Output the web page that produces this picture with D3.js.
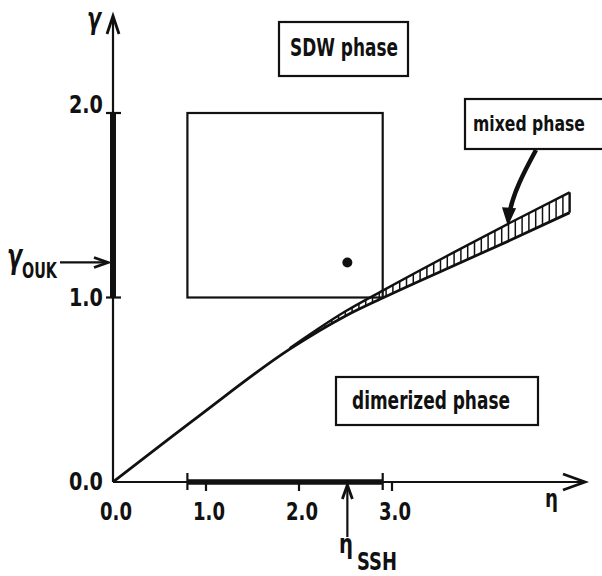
<!DOCTYPE html>
<html>
<head>
<meta charset="utf-8">
<script src="https://d3js.org/d3.v7.min.js"></script>
<style>
  body { margin: 0; background: #fff; }
  text { font-family: "DejaVu Sans", sans-serif; fill: #111; }
</style>
</head>
<body>
<div id="chart"></div>
<script>
// phase boundary (lower edge of mixed region) and upper edge of mixed region
var lowerEdge = [[0, 0], [0.93, 0.36], [1.9, 0.72], [2.5, 0.90], [2.91, 1.0], [3.74, 1.19], [4.27, 1.31], [4.91, 1.46]];
var upperEdge = [[1.9, 0.725], [2.5, 0.925], [2.91, 1.04], [3.74, 1.265], [4.27, 1.405], [4.91, 1.57]];

// parameter ranges (the square) and the special points
var etaRange = [0.8, 2.9];
var gammaRange = [1.0, 2.0];
var etaSSH = 2.52;
var gammaOUK = 1.19;

var xTicks = [0, 1, 2, 3];
var xTickLabels = ["0.0", "1.0", "2.0", "3.0"];
var yTicks = [0, 1, 2];
var yTickLabels = ["0.0", "1.0", "2.0"];

var phaseLabels = ["SDW phase", "mixed phase", "dimerized phase"];

var width = 602, height = 576;

var svg = d3.select("#chart")
  .append("svg")
  .attr("width", width)
  .attr("height", height);

var x = d3.scaleLinear().domain([0, 3]).range([113, 392]);
var y = d3.scaleLinear().domain([0, 2]).range([482, 113]);

// text squeezed horizontally to a given width (the lettering is condensed)
function label(str, px, py, size, w, weight) {
  var g = svg.append("g").attr("transform", "translate(" + px + "," + py + ")");
  var t = g.append("text")
    .style("font-size", size + "px")
    .style("font-weight", weight || "bold")
    .text(str);
  var natural = t.node().getComputedTextLength();
  if (w) t.attr("transform", "scale(" + (w / natural) + ",1)");
  return t;
}

// ---- axes ----
svg.append("line")
  .attr("x1", x(0)).attr("y1", y(0))
  .attr("x2", 585).attr("y2", y(0))
  .attr("stroke", "#111").attr("stroke-width", 2.2);
svg.append("path")
  .attr("d", "M" + 563 + "," + (y(0) - 8) + "L585," + y(0) + "L" + 563 + "," + (y(0) + 8))
  .attr("fill", "none").attr("stroke", "#111").attr("stroke-width", 2.8);

svg.append("line")
  .attr("x1", x(0)).attr("y1", y(0))
  .attr("x2", x(0)).attr("y2", 16)
  .attr("stroke", "#111").attr("stroke-width", 2.2);
svg.append("path")
  .attr("d", "M" + (x(0) - 6) + ",34L" + x(0) + ",16L" + (x(0) + 6) + ",34")
  .attr("fill", "none").attr("stroke", "#111").attr("stroke-width", 2.8);

// thick bars marking the ranges
svg.append("line")
  .attr("x1", x(etaRange[0])).attr("y1", y(0))
  .attr("x2", x(etaRange[1])).attr("y2", y(0))
  .attr("stroke", "#111").attr("stroke-width", 5.5);
etaRange.forEach(function(v) {
  svg.append("line")
    .attr("x1", x(v)).attr("y1", y(0) - 9)
    .attr("x2", x(v)).attr("y2", y(0) + 8)
    .attr("stroke", "#111").attr("stroke-width", 2.2);
});
svg.append("line")
  .attr("x1", x(0)).attr("y1", y(gammaRange[0]))
  .attr("x2", x(0)).attr("y2", y(gammaRange[1]))
  .attr("stroke", "#111").attr("stroke-width", 6);

// ticks
xTicks.forEach(function(v, i) {
  if (v > 0) {
    svg.append("line")
      .attr("x1", x(v)).attr("y1", y(0))
      .attr("x2", x(v)).attr("y2", y(0) + 9)
      .attr("stroke", "#111").attr("stroke-width", 2.2);
  }
  label(xTickLabels[i], x(v) + 3 - 16, 520, 25, 32, "bold");
});
yTicks.forEach(function(v, i) {
  if (v > 0) {
    svg.append("line")
      .attr("x1", x(0) - 7).attr("y1", y(v))
      .attr("x2", x(0) + 8).attr("y2", y(v))
      .attr("stroke", "#111").attr("stroke-width", 2.2);
  }
  label(yTickLabels[i], 69, y(v) + (v == 2 ? 0 : 8), 25, 34, "bold");
});

// axis titles
label("γ", 87, 29, 30, 14, "bold").style("font-style", "italic");
label("η", 545, 507, 25, 13, "bold");

// ---- parameter square and point ----
svg.append("rect")
  .attr("x", x(etaRange[0])).attr("y", y(gammaRange[1]))
  .attr("width", x(etaRange[1]) - x(etaRange[0]))
  .attr("height", y(gammaRange[0]) - y(gammaRange[1]))
  .attr("fill", "none").attr("stroke", "#111").attr("stroke-width", 2.2);

svg.append("circle")
  .attr("cx", x(etaSSH)).attr("cy", y(gammaOUK))
  .attr("r", 5).attr("fill", "#111");

// eta_SSH arrow
svg.append("line")
  .attr("x1", x(etaSSH)).attr("y1", 537)
  .attr("x2", x(etaSSH)).attr("y2", 486)
  .attr("stroke", "#111").attr("stroke-width", 2.2);
svg.append("path")
  .attr("d", "M" + (x(etaSSH) - 5) + ",499L" + x(etaSSH) + ",485L" + (x(etaSSH) + 5) + ",499")
  .attr("fill", "none").attr("stroke", "#111").attr("stroke-width", 2.8);
label("η", 339, 553, 26, 14, "bold");
label("SSH", 357, 570, 25, 40, "bold");

// gamma_OUK arrow
svg.append("line")
  .attr("x1", 60).attr("y1", y(gammaOUK))
  .attr("x2", 107).attr("y2", y(gammaOUK))
  .attr("stroke", "#111").attr("stroke-width", 2.2);
svg.append("path")
  .attr("d", "M94," + (y(gammaOUK) - 5) + "L108," + y(gammaOUK) + "L94," + (y(gammaOUK) + 5))
  .attr("fill", "none").attr("stroke", "#111").attr("stroke-width", 2.8);
label("γ", 7, 268, 33, 15, "bold").style("font-style", "italic");
label("OUK", 22, 278, 21, 35, "bold");

// ---- phase boundary and mixed region ----
var line = d3.line()
  .x(function(d) { return x(d[0]); })
  .y(function(d) { return y(d[1]); })
  .curve(d3.curveMonotoneX);

var lowerPath = svg.append("path")
  .datum(lowerEdge)
  .attr("d", line)
  .attr("fill", "none").attr("stroke", "#111").attr("stroke-width", 2.8);
var upperPath = svg.append("path")
  .datum(upperEdge)
  .attr("d", line)
  .attr("fill", "none").attr("stroke", "#111").attr("stroke-width", 2.4);

// find y on a rendered path for a given screen x
function yAtX(pathNode, px) {
  var len = pathNode.getTotalLength(), lo = 0, hi = len;
  for (var k = 0; k < 40; k++) {
    var mid = (lo + hi) / 2;
    if (pathNode.getPointAtLength(mid).x < px) lo = mid; else hi = mid;
  }
  return pathNode.getPointAtLength(lo).y;
}

// vertical hatching between the two edges
var hatchStart = x(upperEdge[0][0]) + 8;
var hatchEnd = x(upperEdge[upperEdge.length - 1][0]);
d3.range(hatchStart, hatchEnd - 3, 6.8).concat([hatchEnd]).forEach(function(px) {
  var y1 = yAtX(upperPath.node(), px), y2 = yAtX(lowerPath.node(), px);
  svg.append("line")
    .attr("x1", px).attr("y1", y1)
    .attr("x2", px).attr("y2", y2)
    .attr("stroke", "#111").attr("stroke-width", px == hatchEnd ? 2.4 : 1.5);
});

// ---- phase label boxes ----
svg.append("rect")
  .attr("x", 279).attr("y", 22).attr("width", 129).attr("height", 54)
  .attr("fill", "#fff").attr("stroke", "#111").attr("stroke-width", 2.2);
label(phaseLabels[0], 290, 56, 25, 108);

svg.append("rect")
  .attr("x", 465).attr("y", 99).attr("width", 160).attr("height", 50)
  .attr("fill", "#fff").attr("stroke", "#111").attr("stroke-width", 2.2);
label(phaseLabels[1], 473, 131, 22, 112);

svg.append("rect")
  .attr("x", 336).attr("y", 377).attr("width", 202).attr("height", 48)
  .attr("fill", "#fff").attr("stroke", "#111").attr("stroke-width", 2.2);
label(phaseLabels[2], 352, 409, 25, 158);

// curved pointer from the mixed phase box to the band
svg.append("path")
  .attr("d", "M536,150 C524,172 512,195 509,216")
  .attr("fill", "none").attr("stroke", "#111").attr("stroke-width", 4.5)
  .attr("stroke-linecap", "butt");
svg.append("path")
  .attr("d", "M503,208 L508,224 L515,209 Z")
  .attr("fill", "#111").attr("stroke", "#111").attr("stroke-width", 1.5);
</script>
</body>
</html>
